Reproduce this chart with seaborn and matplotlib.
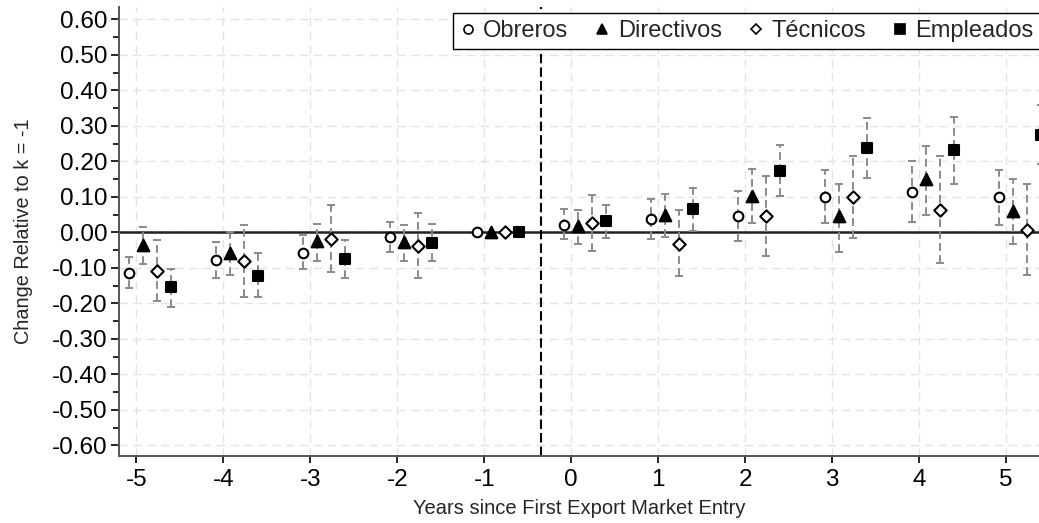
import numpy as np
import pandas as pd
import matplotlib
matplotlib.use("Agg")
import matplotlib.pyplot as plt
from matplotlib.lines import Line2D
from matplotlib.ticker import MultipleLocator, FormatStrFormatter
import seaborn as sns

# ---------------- data ----------------
years = [-5, -4, -3, -2, -1, 0, 1, 2, 3, 4, 5]
groups = ["Obreros", "Directivos", "Técnicos", "Empleados"]

obreros_coef = [-0.113, -0.078, -0.057, -0.014, 0.0, 0.022, 0.037, 0.047, 0.100, 0.113, 0.099]
obreros_lo   = [-0.157, -0.127, -0.104, -0.055, np.nan, -0.018, -0.019, -0.023, 0.026, 0.028, 0.022]
obreros_hi   = [-0.069, -0.027, -0.008, 0.030, np.nan, 0.065, 0.093, 0.118, 0.175, 0.200, 0.176]

directivos_coef = [-0.035, -0.057, -0.025, -0.026, 0.0, 0.017, 0.048, 0.104, 0.046, 0.150, 0.060]
directivos_lo   = [-0.090, -0.121, -0.080, -0.080, np.nan, -0.034, -0.013, 0.027, -0.054, 0.050, -0.033]
directivos_hi   = [0.016, 0.002, 0.023, 0.020, np.nan, 0.062, 0.108, 0.179, 0.137, 0.243, 0.150]

tecnicos_coef = [-0.108, -0.080, -0.018, -0.037, 0.0, 0.026, -0.032, 0.046, 0.099, 0.064, 0.008]
tecnicos_lo   = [-0.193, -0.183, -0.111, -0.128, np.nan, -0.052, -0.122, -0.067, -0.016, -0.086, -0.119]
tecnicos_hi   = [-0.020, 0.022, 0.077, 0.054, np.nan, 0.105, 0.062, 0.160, 0.215, 0.214, 0.135]

empleados_coef = [-0.155, -0.122, -0.074, -0.030, 0.0, 0.031, 0.065, 0.174, 0.238, 0.231, 0.275]
empleados_lo   = [-0.210, -0.183, -0.129, -0.080, np.nan, -0.016, 0.005, 0.103, 0.154, 0.135, 0.193]
empleados_hi   = [-0.104, -0.057, -0.020, 0.023, np.nan, 0.078, 0.125, 0.247, 0.323, 0.324, 0.358]

ytick_vals = [-0.6, -0.5, -0.4, -0.3, -0.2, -0.1, 0.0, 0.1, 0.2, 0.3, 0.4, 0.5, 0.6]

series = {
    "Obreros": (obreros_coef, obreros_lo, obreros_hi),
    "Directivos": (directivos_coef, directivos_lo, directivos_hi),
    "Técnicos": (tecnicos_coef, tecnicos_lo, tecnicos_hi),
    "Empleados": (empleados_coef, empleados_lo, empleados_hi),
}

rows = []
for g in groups:
    c, lo, hi = series[g]
    for k, cc, l, h in zip(years, c, lo, hi):
        rows.append({"k": k, "group": g, "coef": cc, "lo": l, "hi": h})
df = pd.DataFrame(rows)

# ---------------- style ----------------
offsets = {"Obreros": -0.08, "Directivos": 0.08, "Técnicos": 0.24, "Empleados": 0.40}
mstyle = {
    "Obreros":    dict(marker="o", fc="white", s=48),
    "Directivos": dict(marker="^", fc="black", s=70),
    "Técnicos":   dict(marker="D", fc="white", s=40),
    "Empleados":  dict(marker="s", fc="black", s=58),
}
df["x"] = df["k"] + df["group"].map(offsets)

sns.set_theme(style="whitegrid")
plt.rcParams["font.family"] = ["Liberation Sans", "DejaVu Sans"]
plt.rcParams["axes.unicode_minus"] = False

fig = plt.figure(figsize=(10.39, 5.23), dpi=100)
ax = fig.add_axes([0.1145, 0.128, 0.8855, 0.8586])

# error bars
for g in groups:
    d = df[(df["group"] == g) & df["lo"].notna()]
    cont = ax.errorbar(d["x"], d["coef"], yerr=[d["coef"] - d["lo"], d["hi"] - d["coef"]],
                       fmt="none", ecolor="#8a8a8a", elinewidth=1.4, capsize=3,
                       capthick=1.4, zorder=3, clip_on=True)
    for lc in cont[2]:
        lc.set_linestyle((0, (4, 2.2)))

ax.axhline(0, color="#222222", lw=1.8, zorder=2)
ax.axvline(-0.35, color="black", lw=1.5, ls=(0, (4.5, 2)), zorder=2)

# markers
for g in groups:
    d = df[df["group"] == g]
    st = mstyle[g]
    sns.scatterplot(data=d, x="x", y="coef", ax=ax, marker=st["marker"], s=st["s"],
                    color=st["fc"], edgecolor="black", linewidth=1.5, zorder=5,
                    legend=False, clip_on=True)

ax.set_xlim(-5.2, 5.38)
ax.set_ylim(-0.63, 0.635)
ax.set_xticks(years)
ax.set_xticklabels([str(y) for y in years])
ax.set_yticks(ytick_vals)
ax.yaxis.set_major_formatter(FormatStrFormatter("%.2f"))
ax.yaxis.set_minor_locator(MultipleLocator(0.05))

ax.grid(True, which="major", color="#e3e3e3", lw=1.0, ls=(0, (6, 4)))
ax.grid(False, which="minor")
ax.set_axisbelow(True)

for s in ["top", "right"]:
    ax.spines[s].set_visible(False)
for s in ["left", "bottom"]:
    ax.spines[s].set_color("#555555")
    ax.spines[s].set_linewidth(1.4)

ax.tick_params(axis="both", which="major", labelsize=17.5, colors="black",
               length=6, width=1.2, direction="out")
ax.tick_params(axis="y", which="minor", length=4, width=1.2, left=True, colors="black")
ax.tick_params(axis="x", which="major", length=5, pad=4, bottom=True)
ax.tick_params(axis="y", which="major", left=True, pad=2)

ax.set_xlabel("Years since First Export Market Entry", fontsize=14.5, labelpad=6)
ax.set_ylabel("Change Relative to k = -1", fontsize=14.3, labelpad=14)

handles = [Line2D([], [], linestyle="none", marker=mstyle[g]["marker"],
                  markerfacecolor=mstyle[g]["fc"], markeredgecolor="black",
                  markeredgewidth=1.2, markersize=6.5 if g != "Técnicos" else 5.5)
           for g in groups]
leg = ax.legend(handles, groups, loc="upper right", ncol=4, fontsize=17,
                frameon=True, fancybox=False, edgecolor="black", framealpha=1,
                handlelength=0.6, handletextpad=0.35, columnspacing=1.15,
                borderpad=0.3, borderaxespad=0.0, bbox_to_anchor=(1.002, 0.987))
leg.get_frame().set_linewidth(1.0)

fig.savefig("out.png", dpi=100)
